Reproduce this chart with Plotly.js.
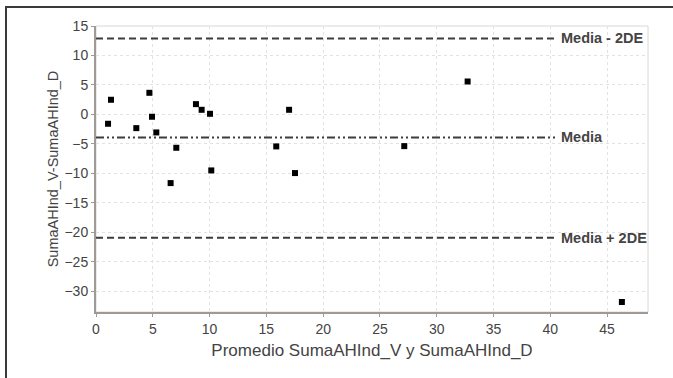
<!DOCTYPE html>
<html>
<head>
<meta charset="utf-8">
<script src="https://cdn.plot.ly/plotly-3.0.1.min.js"></script>
<style>
  html, body { margin: 0; padding: 0; background: #fff; }
  #chart { width: 673px; height: 378px; }
  #frame { position: absolute; left: 5px; top: 6px; width: 700px; height: 400px;
           border: 2px solid #3a3a3a; pointer-events: none; }
</style>
</head>
<body>
<div id="chart"></div>
<div id="frame"></div>
<script>
// Data
const promedio = [1.06, 1.32, 3.55, 4.7, 4.93, 5.31, 6.57, 7.07, 8.8, 9.3, 10.04, 10.15, 15.87, 17.0, 17.52, 27.14, 32.72, 46.3];
const diferencia = [-1.58, 2.49, -2.32, 3.67, -0.39, -3.05, -11.64, -5.65, 1.75, 0.79, 0.11, -9.49, -5.42, 0.79, -9.94, -5.37, 5.59, -31.8];
const refNames = ["Media - 2DE", "Media", "Media + 2DE"];
const refValues = [12.9, -3.9, -20.9];
const lineXEnd = 40.5;

const traces = [{
  type: "scatter", mode: "markers", x: promedio, y: diferencia,
  marker: { symbol: "square", size: 6, color: "#000" },
  showlegend: false, hoverinfo: "x+y"
}];
refValues.forEach((v, i) => {
  traces.push({
    type: "scatter", mode: "lines", x: [0, lineXEnd], y: [v, v],
    line: { color: "#3c3c3c", width: 2, dash: i === 1 ? "8px,3px,2px,3px,2px,3px" : "7px,4px" },
    showlegend: false, hoverinfo: "skip"
  });
});

const annotations = refValues.map((v, i) => ({
  x: lineXEnd + 0.3, y: v, xref: "x", yref: "y", text: "<b>" + refNames[i] + "</b>",
  showarrow: false, xanchor: "left", yanchor: "middle",
  font: { family: "Liberation Sans, Arial, sans-serif", size: 14.5, color: "#444" }
}));

const layout = {
  width: 673, height: 378,
  margin: { l: 96, r: 25, t: 26, b: 66 },
  paper_bgcolor: "#fff", plot_bgcolor: "#fff",
  font: { family: "Liberation Sans, Arial, sans-serif", color: "#444", size: 13 },
  xaxis: {
    range: [0, 48.6], tick0: 0, dtick: 5, zeroline: false,
    showline: true, linecolor: "#a09a96", linewidth: 2, mirror: false,
    ticks: "outside", ticklen: 3, tickcolor: "#a09a96",
    showgrid: true, gridcolor: "#e2e2e2", griddash: "dot", gridwidth: 1,
    tickfont: { size: 14, color: "#444" },
    title: { text: "Promedio SumaAHInd_V y SumaAHInd_D", font: { size: 17, color: "#444" }, standoff: 8 }
  },
  yaxis: {
    range: [-33.5, 15], tick0: 0, dtick: 5, zeroline: false,
    showline: true, linecolor: "#a09a96", linewidth: 2,
    ticks: "outside", ticklen: 3, tickcolor: "#a09a96",
    showgrid: true, gridcolor: "#e2e2e2", griddash: "dot", gridwidth: 1,
    tickfont: { size: 14, color: "#444" },
    title: { text: "SumaAHInd_V-SumaAHInd_D", font: { size: 14.5, color: "#444" }, standoff: 2 }
  },
  shapes: [
    { type: "rect", xref: "paper", yref: "paper", x0: 0, x1: 1, y0: 0, y1: 1,
      line: { color: "#dcd8d4", width: 1 }, layer: "below" }
  ],
  annotations: annotations
};

Plotly.newPlot("chart", traces, layout, { displayModeBar: false, staticPlot: true });
</script>
</body>
</html>
